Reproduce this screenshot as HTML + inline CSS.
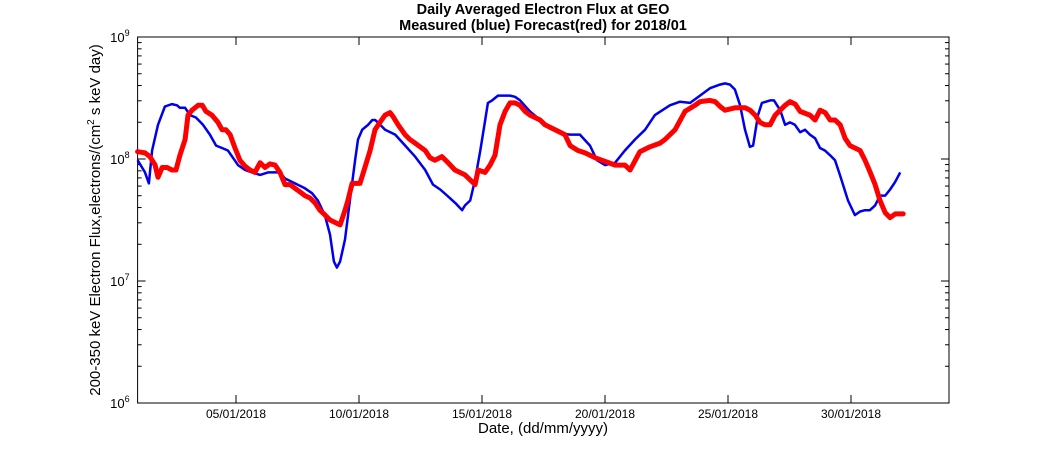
<!DOCTYPE html>
<html><head><meta charset="utf-8"><style>
body{margin:0;background:#fff;}
svg{display:block;font-family:"Liberation Sans",sans-serif;}
</style></head><body>
<svg id="chart" width="1050" height="450">
<text x="543" y="14" text-anchor="middle" font-size="14.5" font-weight="bold">Daily Averaged Electron Flux at GEO</text>
<text x="543" y="30" text-anchor="middle" font-size="14.5" font-weight="bold">Measured (blue) Forecast(red) for 2018/01</text>
<g id="axes"></g>
<g id="series"></g>
<text x="543" y="433" text-anchor="middle" font-size="15">Date, (dd/mm/yyyy)</text>
<text transform="translate(100,220) rotate(-90)" text-anchor="middle" font-size="15">200-350 keV Electron Flux,electrons/(cm<tspan dy="-6" font-size="10">2</tspan><tspan dy="6"> s keV day)</tspan></text>
</svg>
<script>
const xTickDays=[4,9,14,19,24,29];
const xTickLabels=["05/01/2018","10/01/2018","15/01/2018","20/01/2018","25/01/2018","30/01/2018"];
const yTickExps=[6,7,8,9];
const blueDays=[0,0.30,0.46,0.59,0.83,1.11,1.40,1.60,1.72,1.93,2.13,2.37,2.66,2.94,3.19,3.43,3.67,3.88,4.08,4.37,4.65,4.98,5.30,5.59,5.79,5.99,6.40,6.80,7.09,7.33,7.61,7.82,7.98,8.10,8.23,8.43,8.63,8.84,8.96,9.13,9.37,9.54,9.66,9.86,10.06,10.47,10.88,11.28,11.69,12.01,12.30,12.58,12.91,13.19,13.31,13.52,13.72,13.93,14.13,14.24,14.41,14.65,15.14,15.34,15.55,15.95,16.36,16.76,17.17,17.58,17.98,18.39,18.67,19.00,19.41,19.81,20.22,20.63,21.03,21.64,22.05,22.46,22.86,23.27,23.67,23.88,24.08,24.28,24.49,24.69,24.89,25.02,25.22,25.38,25.71,25.87,26.12,26.32,26.52,26.72,26.93,27.13,27.33,27.54,27.74,27.94,28.15,28.35,28.55,28.88,29.16,29.37,29.57,29.77,29.98,30.18,30.39,30.59,30.79,31.00];
const blueLog=[7.99,7.89,7.80,8.07,8.28,8.43,8.45,8.44,8.42,8.42,8.36,8.34,8.28,8.20,8.11,8.09,8.07,8.01,7.95,7.91,7.89,7.87,7.89,7.89,7.89,7.84,7.80,7.76,7.72,7.66,7.54,7.38,7.16,7.11,7.16,7.34,7.66,7.99,8.16,8.24,8.28,8.32,8.32,8.28,8.24,8.20,8.11,8.02,7.91,7.79,7.75,7.70,7.64,7.58,7.62,7.66,7.83,8.07,8.32,8.46,8.48,8.52,8.52,8.51,8.48,8.39,8.32,8.25,8.21,8.20,8.20,8.11,7.99,7.95,7.97,8.07,8.16,8.24,8.36,8.44,8.47,8.46,8.52,8.58,8.61,8.62,8.61,8.57,8.44,8.24,8.10,8.11,8.36,8.46,8.48,8.48,8.40,8.28,8.30,8.28,8.22,8.24,8.20,8.17,8.09,8.07,8.03,7.99,7.87,7.66,7.54,7.57,7.58,7.58,7.62,7.70,7.70,7.75,7.81,7.89];
const redDays=[0,0.30,0.50,0.71,0.83,1.00,1.20,1.40,1.56,1.72,1.93,2.05,2.21,2.46,2.63,2.78,3.02,3.27,3.43,3.59,3.76,3.96,4.16,4.37,4.57,4.77,4.98,5.18,5.38,5.59,5.79,5.99,6.20,6.40,6.60,6.80,7.01,7.21,7.41,7.62,7.82,8.23,8.43,8.55,8.72,9.04,9.24,9.45,9.65,9.85,10.06,10.26,10.38,10.59,10.87,11.07,11.28,11.69,11.89,12.09,12.37,12.62,12.90,13.31,13.72,13.84,14.12,14.33,14.53,14.73,14.94,15.14,15.34,15.54,15.75,15.95,16.36,16.56,16.97,17.37,17.58,17.90,18.19,18.60,19.00,19.41,19.81,20.02,20.42,20.83,21.24,21.44,21.85,22.25,22.66,22.86,23.27,23.48,23.68,23.88,24.29,24.70,24.90,25.10,25.30,25.51,25.71,25.92,26.12,26.32,26.52,26.73,26.93,27.33,27.54,27.74,27.95,28.15,28.35,28.56,28.76,28.96,29.37,29.57,29.78,29.98,30.18,30.39,30.59,30.80,31.00,31.12];
const redLog=[8.06,8.05,8.02,7.95,7.85,7.93,7.93,7.91,7.91,8.03,8.16,8.36,8.40,8.44,8.44,8.39,8.36,8.30,8.24,8.24,8.20,8.09,7.99,7.94,7.91,7.89,7.97,7.93,7.96,7.95,7.89,7.79,7.79,7.76,7.73,7.70,7.68,7.64,7.58,7.54,7.50,7.46,7.58,7.66,7.80,7.80,7.93,8.07,8.24,8.30,8.36,8.38,8.35,8.28,8.20,8.16,8.13,8.07,8.01,7.99,8.02,7.97,7.91,7.87,7.79,7.91,7.89,7.95,8.03,8.28,8.39,8.46,8.46,8.44,8.39,8.36,8.32,8.28,8.24,8.20,8.11,8.07,8.05,8.01,7.98,7.95,7.95,7.91,8.06,8.10,8.13,8.16,8.24,8.39,8.44,8.47,8.48,8.47,8.43,8.40,8.42,8.42,8.40,8.36,8.30,8.28,8.28,8.36,8.40,8.44,8.47,8.45,8.39,8.36,8.32,8.40,8.38,8.32,8.32,8.28,8.17,8.11,8.07,7.99,7.89,7.79,7.66,7.56,7.52,7.55,7.55,7.55];

const L=137.6,R=949,T=37,B=403,dayPx=24.6;
const xs=d=>L+d*dayPx;
const ys=e=>B-(e-6)*(B-T)/3;
const NS="http://www.w3.org/2000/svg";
function mk(tag,attrs,parent){const e=document.createElementNS(NS,tag);for(const k in attrs)e.setAttribute(k,attrs[k]);parent.appendChild(e);return e;}
const ax=document.getElementById('axes'),sr=document.getElementById('series');
const frame=mk('rect',{x:L,y:T,width:R-L,height:B-T,fill:'none',stroke:'#000','stroke-width':1},ax);


xTickDays.forEach((d,i)=>{
 const x=xs(d);
 const t1=mk('line',{x1:x,x2:x,y1:B,y2:B-8,stroke:'#000'},ax);
 
 
 const t2=mk('line',{x1:x,x2:x,y1:T,y2:T+8,stroke:'#000'},ax);
 
 
 const lb=mk('text',{x:x,y:B+15,'text-anchor':'middle','font-size':12},ax);
 lb.textContent=xTickLabels[i];
 
 
});
yTickExps.forEach(e=>{
 const y=ys(e);
 const lb=mk('text',{x:L-8,y:y+5,'text-anchor':'end','font-size':13},ax);
 lb.innerHTML='10<tspan dy="-6" font-size="9">'+e+'</tspan>';
 
 
 if(e<9){for(let m=1;m<10;m++){const yy=ys(e+Math.log10(m));const len=m==1?8:4;
  const a=mk('line',{x1:L,x2:L+len,y1:yy,y2:yy,stroke:'#000'},ax);
  
  
  const b=mk('line',{x1:R,x2:R-len,y1:yy,y2:yy,stroke:'#000'},ax);
  
  }}
});
const pts=(ds,vs)=>ds.map((d,i)=>xs(d).toFixed(1)+','+ys(vs[i]).toFixed(1)).join(' ');
const blue=mk('polyline',{points:pts(blueDays,blueLog),fill:'none',stroke:'#0000ee','stroke-width':2.5,'stroke-linejoin':'round'},sr);


const red=mk('polyline',{points:pts(redDays,redLog),fill:'none',stroke:'#ff0000','stroke-width':5,'stroke-linejoin':'round','stroke-linecap':'round'},sr);


</script>
</body></html>
